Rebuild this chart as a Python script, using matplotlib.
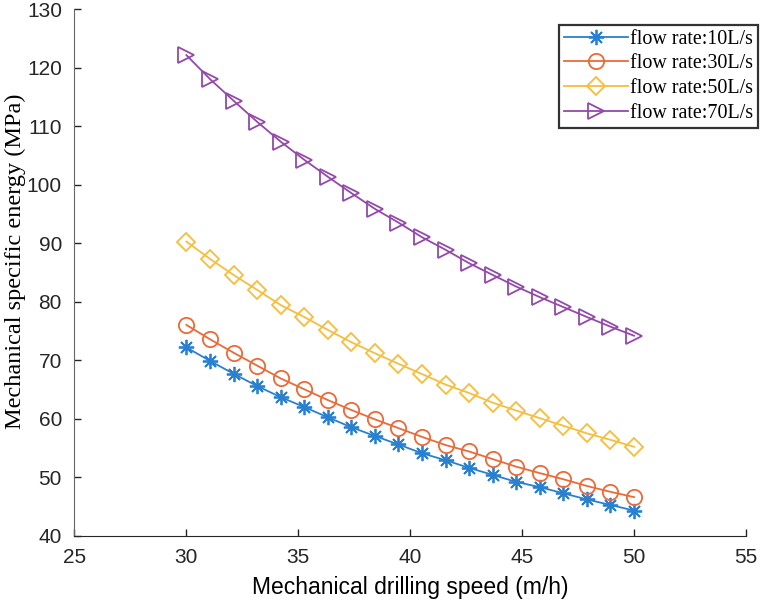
import matplotlib
matplotlib.use("Agg")
import matplotlib.pyplot as plt
import numpy as np

speed = np.linspace(30, 50, 20)
mse_10 = [72.2, 69.9, 67.7, 65.6, 63.7, 62.0, 60.25, 58.55, 57.05, 55.6,
          54.1, 52.9, 51.6, 50.4, 49.2, 48.3, 47.25, 46.2, 45.25, 44.3]
mse_30 = [76.05, 73.6, 71.3, 69.1, 66.9, 65.05, 63.2, 61.5, 59.9, 58.4,
          56.9, 55.5, 54.4, 53.1, 51.8, 50.7, 49.65, 48.5, 47.5, 46.6]
mse_50 = [90.3, 87.35, 84.6, 82.05, 79.45, 77.4, 75.2, 73.1, 71.2, 69.4,
          67.65, 65.85, 64.4, 62.75, 61.4, 60.1, 58.8, 57.5, 56.4, 55.2]
mse_70 = [122.2, 118.1, 114.4, 110.8, 107.4, 104.3, 101.4, 98.6, 95.9, 93.55,
          91.05, 88.9, 86.6, 84.6, 82.6, 80.8, 79.1, 77.4, 75.75, 74.2]
labels = ["flow rate:10L/s", "flow rate:30L/s", "flow rate:50L/s", "flow rate:70L/s"]
xticks = [25, 30, 35, 40, 45, 50, 55]
yticks = [40, 50, 60, 70, 80, 90, 100, 110, 120, 130]

colors = ["#2a80d0", "#eb6a38", "#f7bd3c", "#9349a9"]
markers = [(8, 2, 0), "o", "D", ">"]
msizes = [11, 11, 9, 11]

tick_family = ["Liberation Sans Narrow", "Liberation Sans"]

fig = plt.figure(figsize=(7.64, 6.04), dpi=100)
ax = fig.add_axes([0.0975, 0.1131, 0.8789, 0.8712])

for y, c, m, ms, lab in zip([mse_10, mse_30, mse_50, mse_70], colors, markers, msizes, labels):
    ax.plot(speed, y, color=c, marker=m, markersize=ms, linewidth=1.3,
            markerfacecolor="none", markeredgewidth=1.3, label=lab)

ax.set_xlim(25, 55)
ax.set_ylim(40, 130)
ax.set_xticks(xticks)
ax.set_yticks(yticks)
for s in ["top", "right"]:
    ax.spines[s].set_visible(False)
ax.spines["left"].set_color("#666666")
ax.spines["bottom"].set_color("#262626")
ax.tick_params(direction="in", length=5, labelsize=15, colors="#262626", width=1, pad=9)
for lbl in ax.get_xticklabels() + ax.get_yticklabels():
    lbl.set_family(tick_family)

ax.set_xlabel("Mechanical drilling speed (m/h)", fontsize=16.5, family="Liberation Sans", labelpad=6)
ax.set_ylabel("Mechanical specific energy (MPa)", fontsize=17.5, family="Liberation Serif")
ax.yaxis.set_label_coords(-0.072, 0.522)

leg = fig.legend(loc="upper right", bbox_to_anchor=(0.992, 0.959),
                 prop={"family": "Liberation Serif", "size": 14.4},
                 frameon=True, fancybox=False, edgecolor="black",
                 handlelength=3.2, handletextpad=0.1, borderpad=0.25,
                 labelspacing=0.28, borderaxespad=0)
leg.get_frame().set_linewidth(1.6)

fig.savefig("out.png", dpi=100)
